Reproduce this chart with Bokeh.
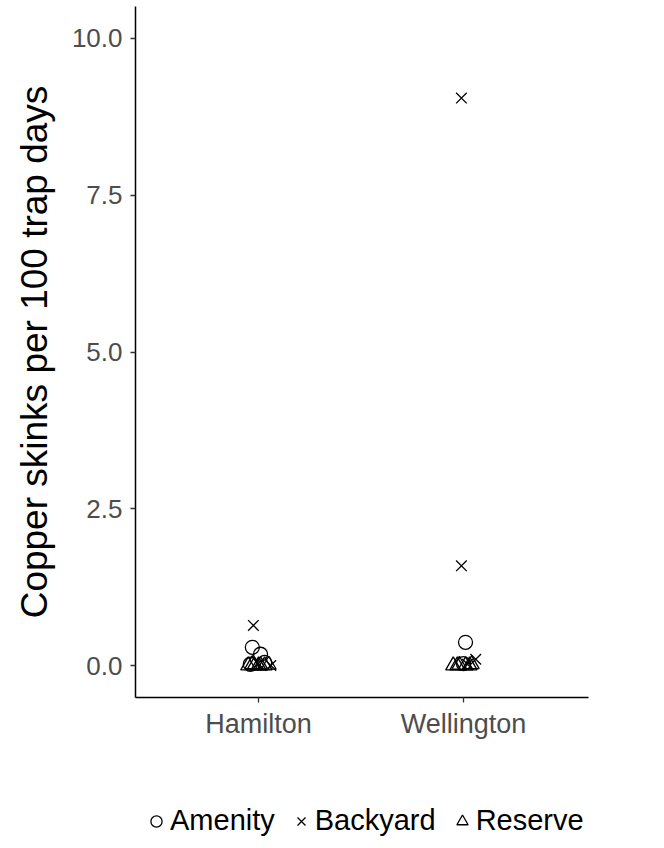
from bokeh.plotting import figure
from bokeh.layouts import column
from bokeh.models import Range1d, FixedTicker, PrintfTickFormatter, Legend, LegendItem
from bokeh.embed import file_html
from bokeh.resources import INLINE

# ---- data ----
sites = ["Hamilton", "Wellington"]
habitats = ["Amenity", "Backyard", "Reserve"]
y_ticks = [0.0, 2.5, 5.0, 7.5, 10.0]

# jittered positions (site index 1 = Hamilton, 2 = Wellington) and values
amenity_x = [0.97, 1.01, 1.03, 0.96, 2.01, 2.00]
amenity_y = [0.29, 0.18, 0.05, 0.02, 0.37, 0.03]

backyard_x = [0.975, 1.00, 1.06, 1.99, 1.99, 2.06, 2.02]
backyard_y = [0.64, 0.03, 0.00, 9.05, 1.59, 0.10, 0.02]

reserve_x = [0.95, 0.98, 1.01, 1.03, 1.05, 0.97, 1.00, 1.95, 1.98, 2.01, 2.04, 1.97, 2.03]
reserve_y = [0.00, 0.00, 0.00, 0.00, 0.01, 0.02, 0.00, 0.00, 0.01, 0.00, 0.02, 0.00, 0.00]

FONT = "Liberation Sans"

p = figure(width=656, height=760, output_backend="svg", toolbar_location=None,
           x_range=Range1d(0.4, 2.61), y_range=Range1d(-0.51, 10.51),
           min_border_left=135, min_border_right=68, min_border_top=6, min_border_bottom=63)

p.xgrid.visible = False
p.ygrid.visible = False
p.outline_line_color = None
p.background_fill_color = "white"
p.border_fill_color = "white"

MARKERS = dict(Amenity=("circle", 14), Backyard=("x", 15), Reserve=("triangle", 15))
xs = dict(Amenity=amenity_x, Backyard=backyard_x, Reserve=reserve_x)
ys = dict(Amenity=amenity_y, Backyard=backyard_y, Reserve=reserve_y)

for h in habitats:
    m, s = MARKERS[h]
    p.scatter(xs[h], ys[h], marker=m, size=s, fill_color=None,
              line_color="black", line_width=1.3)

# axes
for ax in (p.xaxis[0], p.yaxis[0]):
    ax.axis_line_color = "black"
    ax.axis_line_width = 1.5
    ax.major_tick_line_color = "#333333"
    ax.major_tick_line_width = 1.3
    ax.major_tick_out = 5
    ax.major_tick_in = 0
    ax.minor_tick_line_color = None
    ax.major_label_text_font = FONT
    ax.major_label_text_color = "#4D4D4D"

p.yaxis.ticker = FixedTicker(ticks=y_ticks)
p.yaxis.formatter = PrintfTickFormatter(format="%.1f")
p.yaxis.major_label_text_font_size = "26px"
p.yaxis.major_label_standoff = 8
p.yaxis.axis_label = "Copper skinks per 100 trap days"
p.yaxis.axis_label_text_font = FONT
p.yaxis.axis_label_text_font_size = "37px"
p.yaxis.axis_label_text_font_style = "normal"
p.yaxis.axis_label_text_color = "black"
p.yaxis.axis_label_standoff = 14

p.xaxis.ticker = FixedTicker(ticks=[1, 2])
p.xaxis.major_label_overrides = {i + 1: s for i, s in enumerate(sites)}
p.xaxis.major_label_text_font_size = "27px"
p.xaxis.major_label_standoff = 6

# ---- legend strip below the plot (same series, kept outside this strip's view) ----
q = figure(width=656, height=80, output_backend="svg", toolbar_location=None,
           x_range=Range1d(-20, -19), y_range=Range1d(-20, -19),
           min_border=0, x_axis_type=None, y_axis_type=None)
q.xgrid.visible = False
q.ygrid.visible = False
q.outline_line_color = None
q.background_fill_color = "white"
q.border_fill_color = "white"

items = []
for h in habitats:
    m, s = MARKERS[h]
    r = q.scatter(xs[h], ys[h], marker=m, size=s, fill_color=None,
                  line_color="black", line_width=1.3)
    items.append(LegendItem(label=h, renderers=[r]))

legend = Legend(items=items, orientation="horizontal", location=(7, 3))
legend.label_text_font = FONT
legend.label_text_font_size = "29px"
legend.label_text_color = "black"
legend.glyph_width = 28
legend.glyph_height = 30
legend.label_height = 30
legend.label_standoff = -5
legend.spacing = 12
legend.padding = 0
legend.margin = 0
legend.border_line_color = None
legend.background_fill_alpha = 0
q.add_layout(legend, "center")

layout = column(p, q, spacing=0)
open("out.html", "w").write(file_html(layout, INLINE))
